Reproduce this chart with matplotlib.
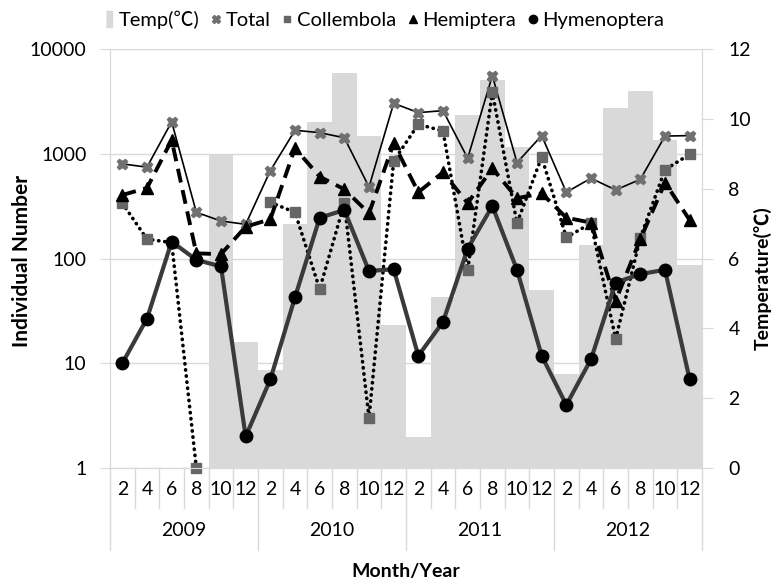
import numpy as np
import matplotlib
matplotlib.use('Agg')
from matplotlib import pyplot as plt
from matplotlib.lines import Line2D
import matplotlib.transforms as mtransforms

plt.rcParams['font.family'] = ['Lato', 'Noto Sans CJK SC', 'DejaVu Sans']

# 数据
years = ['2009', '2010', '2011', '2012']
months = ['2', '4', '6', '8', '10', '12']
nan = np.nan
temp = [nan, nan, nan, nan, 9.0, 3.6, 2.8, 7.0, 9.9, 11.3, 9.5, 4.1,
        0.9, 4.9, 10.1, 11.1, 9.2, 5.1, 2.7, 6.4, 10.3, 10.8, 9.4, 5.8]
total = [800, 745, 2020, 276, 228, 212, 690, 1675, 1590, 1420, 482, 3030,
         2470, 2580, 906, 5560, 823, 1490, 429, 584, 451, 570, 1475, 1490]
collembola = [337, 153, 142, 1, nan, nan, 344, 276, 51, 337, 3, 853,
              1910, 1650, 77, 3880, 217, 931, 159, 217, 17, 158, 705, 988]
hemiptera = [404, 471, 1350, 112, 110, 201, 237, 1130, 604, 458, 270, 1260,
             429, 665, 337, 726, 376, 419, 245, 220, 39.5, 153, 530, 233]
hymenoptera = [10, 26.7, 145, 97, 84, 2, 7, 42.6, 245, 290, 76, 79,
               11.8, 24.8, 124, 317, 78, 11.8, 4, 10.9, 59, 71, 78, 7]

grid_c = '#d9d9d9'
fs = 14

fig = plt.figure(figsize=(7.76, 5.85), dpi=100)
ax = fig.add_axes([110 / 776, 1 - 468 / 585, 592 / 776, 419 / 585])
ax2 = ax.twinx()
ax.set_zorder(ax2.get_zorder() + 1)
ax.patch.set_visible(False)

x = np.arange(len(total))

# 温度柱状图
ax2.bar(x, temp, width=1.0, color=grid_c, edgecolor='none')
ax2.set_ylim(0, 12)
ax2.set_yticks(np.arange(0, 13, 2))

# 各类群折线
ax.plot(x, total, color='black', lw=1.2, marker='X', ms=7.5,
        mfc='#707070', mec='#707070', clip_on=False)
ax.plot(x, collembola, color='black', lw=2.6, linestyle=(0, (0.1, 1.6)),
        dash_capstyle='round', marker='s', ms=7, mfc='#666666', mec='#666666',
        clip_on=False)
ax.plot(x, hemiptera, color='black', lw=2.8, linestyle=(0, (3.6, 2)),
        marker='^', ms=8, mfc='black', mec='black', clip_on=False)
ax.plot(x, hymenoptera, color='#3a3a3a', lw=3, marker='o', ms=9,
        mfc='black', mec='black', clip_on=False)

ax.set_yscale('log')
ax.set_ylim(1, 10000)
ax.set_yticks([1, 10, 100, 1000, 10000])
ax.set_yticklabels(['1', '10', '100', '1000', '10000'])
ax.minorticks_off()
ax.set_xlim(-0.5, len(total) - 0.5)
ax.set_xticks([])
ax.yaxis.grid(True, color=grid_c, lw=1)
ax.set_axisbelow(True)

for a in (ax, ax2):
    a.spines['top'].set_visible(False)
    for s in ('left', 'right', 'bottom'):
        a.spines[s].set_color(grid_c)
ax.tick_params(axis='y', length=7, color=grid_c, labelsize=fs, pad=10)
ax2.tick_params(axis='y', length=8, color=grid_c, labelsize=fs, pad=11)

# 分类坐标轴（月/年）
trans = mtransforms.blended_transform_factory(ax.transData, ax.transAxes)
for i in range(len(total) + 1):
    b = i - 0.5
    y_end = -0.196 if i % 6 == 0 else -0.0955
    ax.plot([b, b], [0, y_end], color=grid_c, lw=1, transform=trans, clip_on=False)
for i in range(len(total)):
    ax.text(i, -0.0525, months[i % 6], transform=trans, ha='center', va='center',
            fontsize=fs)
for j, yr in enumerate(years):
    ax.text(j * 6 + 2.5, -0.148, yr, transform=trans, ha='center', va='center',
            fontsize=fs)

fig.text(406 / 776, 1 - 572 / 585, 'Month/Year', ha='center', va='center',
         fontsize=14, fontweight='bold')
fig.text(22 / 776, 1 - 261 / 585, 'Individual Number', rotation=90, ha='center',
         va='center', fontsize=15, fontweight='bold')
fig.text(763 / 776, 1 - 278 / 585, 'Temperature(℃)', rotation=90, ha='center',
         va='center', fontsize=14, fontweight='bold')

# 图例
rect = [(-0.35, -1), (0.35, -1), (0.35, 1), (-0.35, 1)]
handles = [
    Line2D([], [], ls='none', marker=rect, ms=12, mfc=grid_c, mec=grid_c),
    Line2D([], [], ls='none', marker='X', ms=6, mfc='#707070', mec='#707070'),
    Line2D([], [], ls='none', marker='s', ms=5, mfc='#666666', mec='#666666'),
    Line2D([], [], ls='none', marker='^', ms=6, mfc='black', mec='black'),
    Line2D([], [], ls='none', marker='o', ms=6, mfc='black', mec='black'),
]
labels = ['Temp(℃)', 'Total', 'Collembola', 'Hemiptera', 'Hymenoptera']
fig.legend(handles, labels, loc='center', bbox_to_anchor=(384 / 776, 1 - 20 / 585),
           ncol=5, frameon=False, fontsize=14.5, handlelength=0.5,
           handletextpad=0.2, columnspacing=0.6, borderpad=0)

fig.savefig('out.png', dpi=100)
